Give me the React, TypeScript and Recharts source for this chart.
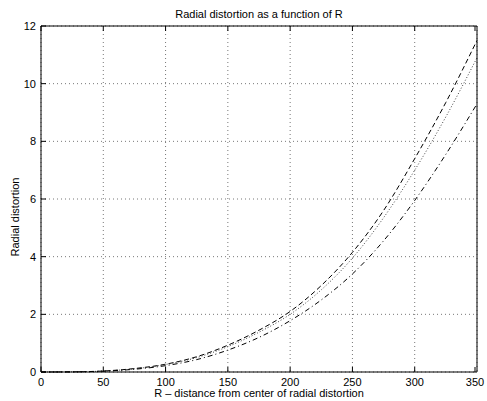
import React from 'react';
import { LineChart, Line, XAxis, YAxis, CartesianGrid } from 'recharts';

// R values (x) and the three radial distortion curves
const rValues = [0, 25, 50, 75, 100, 125, 150, 175, 200, 225, 250, 275, 300, 325, 350];
const dashedValues = [0, 0.005, 0.035, 0.12, 0.27, 0.53, 0.93, 1.45, 2.1, 3.0, 4.15, 5.6, 7.4, 9.35, 11.5];
const dottedValues = [0, 0.005, 0.033, 0.11, 0.26, 0.5, 0.88, 1.38, 2.0, 2.85, 3.95, 5.35, 7.0, 8.85, 10.9];
const dashDotValues = [0, 0.004, 0.028, 0.095, 0.22, 0.43, 0.76, 1.2, 1.78, 2.5, 3.4, 4.55, 5.95, 7.55, 9.3];

const xTicks = [0, 50, 100, 150, 200, 250, 300, 350];
const yTicks = [0, 2, 4, 6, 8, 10, 12];

const data = rValues.map((r, i) => ({
    r,
    dashed: dashedValues[i],
    dotted: dottedValues[i],
    dashDot: dashDotValues[i],
}));

const FONT = 'Arial, "Liberation Sans", Helvetica, sans-serif';
const TICK_LEN = 5;

// ticks drawn inward like matlab
const BottomTick = (props: any) => {
    const { x, y, payload } = props;
    const axisY = y - 6;
    return (
        <g>
            <line x1={x} x2={x} y1={axisY} y2={axisY - TICK_LEN} stroke="#000" />
            <text x={x} y={y} dy="0.71em" textAnchor="middle" fontSize={11} fill="#000" fontFamily={FONT}>
                {payload.value}
            </text>
        </g>
    );
};

const LeftTick = (props: any) => {
    const { x, y, payload } = props;
    const axisX = x + 5;
    return (
        <g>
            <line x1={axisX} x2={axisX + TICK_LEN} y1={y} y2={y} stroke="#000" />
            <text x={x} y={y} dy="0.35em" textAnchor="end" fontSize={11} fill="#000" fontFamily={FONT}>
                {payload.value}
            </text>
        </g>
    );
};

const TopTick = (props: any) => {
    const { x, y } = props;
    return <line x1={x} x2={x} y1={y} y2={y + TICK_LEN} stroke="#000" />;
};

const RightTick = (props: any) => {
    const { x, y } = props;
    return <line x1={x} x2={x - TICK_LEN} y1={y} y2={y} stroke="#000" />;
};

const renderYLabel = (props: any) => {
    const vb = props.viewBox || { y: 26, height: 346 };
    const cx = 15;
    const cy = vb.y + vb.height / 2 + 18;
    return (
        <text
            x={cx}
            y={cy}
            dy="0.35em"
            textAnchor="middle"
            transform={`rotate(-90 ${cx} ${cy})`}
            fontSize={11}
            fill="#000"
            fontFamily={FONT}
        >
            Radial distortion
        </text>
    );
};

export default function App() {
    return (
        <div style={{ position: 'absolute', left: 0, top: 0, width: 487, height: 401, background: '#fff' }}>
            <LineChart
                width={487}
                height={401}
                data={data}
                margin={{ top: 25, right: 9, bottom: 0, left: 0 }}
                style={{ fontFamily: FONT }}
            >
                <CartesianGrid stroke="#777" strokeDasharray="1 3" />
                <XAxis
                    dataKey="r"
                    type="number"
                    domain={[0, 350]}
                    ticks={xTicks}
                    height={29}
                    tickSize={0}
                    tickMargin={6}
                    tickLine={false}
                    tick={<BottomTick />}
                    axisLine={{ stroke: '#000' }}
                    label={{
                        value: 'R \u2013 distance from center of radial distortion',
                        position: 'insideBottom',
                        offset: 4,
                        fontSize: 11,
                        fill: '#000',
                    }}
                />
                <XAxis
                    xAxisId="top"
                    orientation="top"
                    dataKey="r"
                    type="number"
                    domain={[0, 350]}
                    ticks={xTicks}
                    height={1}
                    tickSize={0}
                    tickMargin={0}
                    tickLine={false}
                    tick={<TopTick />}
                    axisLine={{ stroke: '#000' }}
                    label={{
                        value: 'Radial distortion as a function of R',
                        position: 'top',
                        offset: 7,
                        fontSize: 11,
                        fill: '#000',
                    }}
                />
                <YAxis
                    type="number"
                    domain={[0, 12]}
                    ticks={yTicks}
                    width={41}
                    tickSize={0}
                    tickMargin={5}
                    tickLine={false}
                    tick={<LeftTick />}
                    axisLine={{ stroke: '#000' }}
                    label={renderYLabel}
                />
                <YAxis
                    yAxisId="right"
                    orientation="right"
                    type="number"
                    domain={[0, 12]}
                    ticks={yTicks}
                    width={1}
                    tickSize={0}
                    tickMargin={0}
                    tickLine={false}
                    tick={<RightTick />}
                    axisLine={{ stroke: '#000' }}
                />
                <Line
                    type="monotone"
                    dataKey="dashed"
                    stroke="#000"
                    strokeWidth={1}
                    strokeDasharray="5 3"
                    dot={false}
                    isAnimationActive={false}
                />
                <Line
                    type="monotone"
                    dataKey="dotted"
                    stroke="#444"
                    strokeWidth={1}
                    strokeDasharray="1 2"
                    dot={false}
                    isAnimationActive={false}
                />
                <Line
                    type="monotone"
                    dataKey="dashDot"
                    stroke="#000"
                    strokeWidth={1}
                    strokeDasharray="5 3 1 3"
                    dot={false}
                    isAnimationActive={false}
                />
            </LineChart>
        </div>
    );
}
